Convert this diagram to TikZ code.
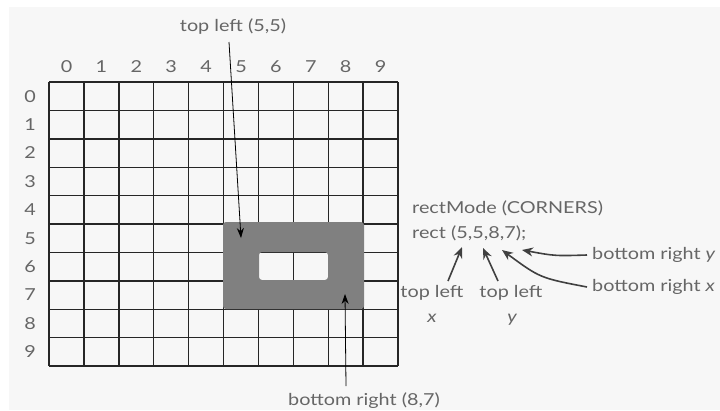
\documentclass[tikz,border=0pt]{standalone}
\usepackage{fontspec}
\setmainfont{Lato}[FakeStretch=1.2]
\usetikzlibrary{arrows.meta}
\begin{document}
\begin{tikzpicture}[x=1pt,y=-1pt,
  lbl/.style={text=black!60, font=\fontsize{16.5}{18}\selectfont, inner sep=0pt},
  gridline/.style={line width=1.4pt, black!85},
  thinarr/.style={line width=0.8pt, black, -{Stealth[length=10pt,width=7pt]}},
  thickarr/.style={line width=1.6pt, black!75, -{Stealth[length=11pt,width=9pt]}}]
\useasboundingbox (0,0) rectangle (720,410);
\fill[white] (0,0) rectangle (720,410);
\fill[black!3] (9,7) rectangle (720,410);
% grid
\foreach \i in {0,...,10} {
  \draw[gridline] ({49+\i*34.9},82) -- ({49+\i*34.9},366);
  \draw[gridline] (49,{82+\i*28.4}) -- (398,{82+\i*28.4});
}
% the rectangle drawn with rect(5,5,8,7)
\fill[black!50, even odd rule, rounded corners=3pt]
  (223,222) rectangle (364,309) (259,252) rectangle (328,280);
% axis numbers
\foreach \i in {0,...,9} {
  \node[lbl] (c\i) at ({66.5+\i*34.9},67) {\i};
  \node[lbl] (r\i) at (30,{96.2+\i*28.4}) {\i};
}
% top left label
\node[lbl] (tl) at (233,27) {top left (5,5)};
\coordinate (tlStart) at (229,42);
\coordinate (tlTip) at (241,238);
\draw[thinarr] (tlStart) -- (tlTip);
% bottom right label
\node[lbl] (br) at (364,401) {bottom right (8,7)};
\coordinate (brStart) at (346,386);
\coordinate (brTip) at (345,294);
\draw[thinarr] (brStart) -- (brTip);
% code
\node[lbl, anchor=west] (mode) at (412,208) {rectMode (CORNERS)};
\node[lbl, anchor=west] (code) at (412,233) {rect (5,5,8,7);};
\node[lbl] (tlx) at (432,293) {top left};
\node[lbl] (tlxv) at (432,318) {\itshape x};
\node[lbl] (tly) at (511,293) {top left};
\node[lbl] (tlyv) at (512,320) {\itshape y};
\node[lbl, anchor=west] (brx) at (592,287) {bottom right \itshape x};
\node[lbl, anchor=west] (bry) at (592,255) {bottom right \itshape y};
\coordinate (t1) at (462,247);
\coordinate (t2) at (483,248);
\coordinate (t3) at (502,250);
\coordinate (t4) at (522,250);
\coordinate (s1) at (448,281);
\coordinate (s2) at (498,281);
\coordinate (s3) at (587,287);
\coordinate (s4) at (587,255);
\draw[thickarr] (s1) -- (t1);
\draw[thickarr] (s2) -- (t2);
\draw[thickarr] (s3) .. controls (540,278) .. (t3);
\draw[thickarr] (s4) .. controls (555,256) .. (t4);
\end{tikzpicture}
\end{document}
